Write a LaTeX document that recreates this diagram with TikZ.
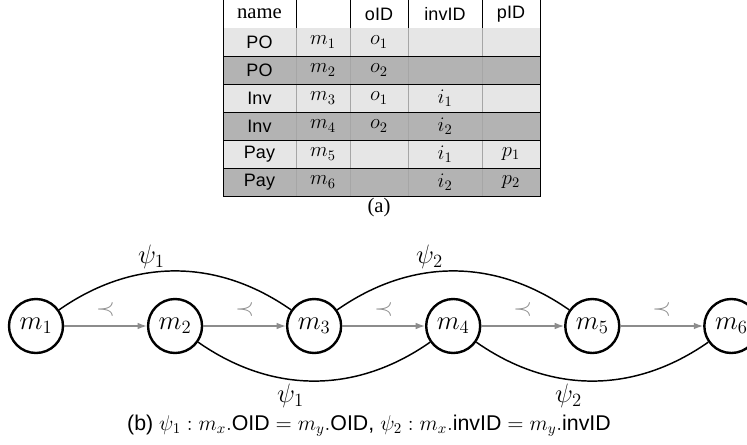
\RequirePackage{fix-cm}
\documentclass[tikz,border=0pt]{standalone}
\usepackage{fontspec}
\setmainfont{Liberation Serif}
\setsansfont{Liberation Sans}
\usepackage{amsmath,amssymb}
\usetikzlibrary{arrows.meta,positioning}
\definecolor{rowlight}{RGB}{230,230,230}
\definecolor{rowdark}{RGB}{179,179,179}
\definecolor{ordergray}{RGB}{140,140,140}
\tikzset{
    cell/.style={inner sep=0pt, font=\fontsize{15.5}{18}\selectfont},
    sfcell/.style={inner sep=0pt, font=\sffamily\fontsize{13.5}{16}\selectfont},
    msg/.style={circle, draw, line width=1.8pt, minimum size=40.5pt, inner sep=0pt,
        font=\fontsize{20}{24}\selectfont},
    order/.style={draw=ordergray, line width=1pt, -{Latex[length=7pt,width=5pt]}},
    prec/.style={text=ordergray, inner sep=7pt, font=\fontsize{18}{21}\selectfont},
    rel/.style={draw, line width=1.1pt},
    psilabel/.style={inner sep=2.5pt, font=\fontsize{20}{24}\selectfont}
}

\begin{document}
\begin{tikzpicture}[x=0.75pt, y=-0.75pt]
    \useasboundingbox (0,0) rectangle (747,444);

    % (a) message table
    \foreach \nm/\mv/\ov/\iv/\pv [count=\r] in {
        PO/m_1/o_1//, PO/m_2/o_2//, Inv/m_3/o_1/i_1/, Inv/m_4/o_2/i_2/,
        Pay/m_5//i_1/p_1, Pay/m_6//i_2/p_2} {
        \pgfmathsetmacro\ytop{28*\r}
        \ifodd\r \def\rowcol{rowlight}\else \def\rowcol{rowdark}\fi
        \fill[\rowcol] (223,\ytop) rectangle (540,\ytop+28);
        \node[sfcell] (nm\r) at (259.5,\ytop+14) {\nm};
        \node[cell] (mv\r) at (323,\ytop+14) {$\mv$};
        \node[cell] (ov\r) at (379,\ytop+14) {$\ov$};
        \node[cell] (iv\r) at (445,\ytop+14) {$\iv$};
        \node[cell] (pv\r) at (511,\ytop+14) {$\pv$};
    }
    \node[cell] (hname) at (259.5,14) {name};
    \node[sfcell] (hoid) at (379,14) {oID};
    \node[sfcell] (hinv) at (445,14) {invID};
    \node[sfcell] (hpid) at (511,14) {pID};
    \foreach \x in {296,350,408,482} {
        \draw[line width=0.6pt] (\x,0) -- (\x,28);
        \draw[gray!70, line width=0.5pt] (\x,28) -- (\x,196);
    }
    \foreach \y in {56,84,...,168}
        \draw[line width=0.6pt] (223,\y) -- (540,\y);
    \draw[line width=0.7pt] (223,0) -- (223,196) -- (540,196) -- (540,0);
    \node[cell] (capa) at (379,208) {(a)};

    % (b) message graph
    \node[msg] (m1) at (36,326) {$m_1$};
    \node[msg, right=62pt of m1] (m2) {$m_2$};
    \node[msg, right=62pt of m2] (m3) {$m_3$};
    \node[msg, right=62pt of m3] (m4) {$m_4$};
    \node[msg, right=62pt of m4] (m5) {$m_5$};
    \node[msg, right=62pt of m5] (m6) {$m_6$};

    \foreach \a/\b in {m1/m2,m2/m3,m3/m4,m4/m5,m5/m6}
        \draw[order] (\a) -- node[prec, above] {$\prec$} (\b);

    \draw[rel] (m1) to[bend left=35] node[psilabel, pos=0.4, above] {$\psi_1$} (m3);
    \draw[rel] (m3) to[bend left=35] node[psilabel, pos=0.4, above] {$\psi_2$} (m5);
    \draw[rel] (m2) to[bend right=35] node[psilabel, pos=0.4, below] {$\psi_1$} (m4);
    \draw[rel] (m4) to[bend right=35] node[psilabel, pos=0.4, below] {$\psi_2$} (m6);

    \node[font=\sffamily\fontsize{16}{19}\selectfont] (capb) at (369,426)
        {(b) $\psi_1:m_x.\textsf{OID}=m_y.\textsf{OID}$, $\psi_2:m_x.\textsf{invID}=m_y.\textsf{invID}$};
\end{tikzpicture}
\end{document}
